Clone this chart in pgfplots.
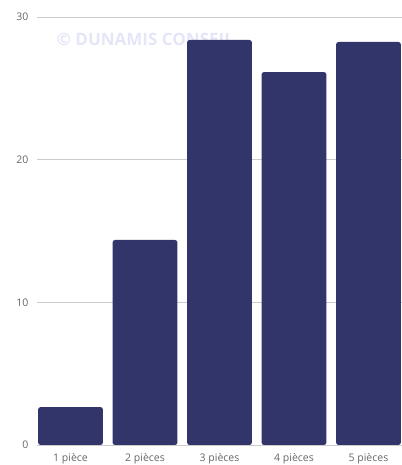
\documentclass[border=0pt]{standalone}
\usepackage{pgfplots}
\pgfplotsset{compat=1.18}
\usepackage{fontspec}
\setmainfont{Open Sans}
\definecolor{barc}{HTML}{32356A}
\definecolor{gridc}{HTML}{CCCCCC}
\definecolor{tickc}{HTML}{666666}
\definecolor{wm}{HTML}{E4E6F7}
\begin{document}
\begin{tikzpicture}
\begin{axis}[
  scale only axis, width=365pt, height=428pt,
  xmin=-0.45, xmax=4.45, ymin=0, ymax=30,
  axis line style={draw=none},
  ytick={0,10,20,30}, xtick={0,1,2,3,4},
  xticklabels={1 pièce,2 pièces,3 pièces,4 pièces,5 pièces},
  ymajorgrids, major grid style={gridc, line width=0.7pt},
  tick style={draw=none},
  tick label style={font=\fontsize{10.5}{13}\selectfont, text=tickc},
  /pgf/number format/assume math mode=true,
  yticklabel style={xshift=-5pt},
  xticklabel style={yshift=-1pt},
  clip=false,
  ybar, bar width=0.87, bar shift=0pt,
]
\node[font=\bfseries\fontsize{17}{20}\selectfont, text=wm, anchor=west] at (axis cs:-0.23,28.4) {© DUNAMIS CONSEIL};
\addplot[fill=barc, draw=none, rounded corners=2.5pt] coordinates {(0,2.66) (1,14.37) (2,28.39) (3,26.14) (4,28.25)};
\draw[gridc, line width=0.7pt] (axis cs:-0.45,0) -- (axis cs:4.45,0);
\end{axis}
\pgfresetboundingbox
\useasboundingbox ([xshift=-37pt,yshift=17pt]current axis.north west) rectangle ([yshift=-20pt]current axis.south east);
\end{tikzpicture}
\end{document}
